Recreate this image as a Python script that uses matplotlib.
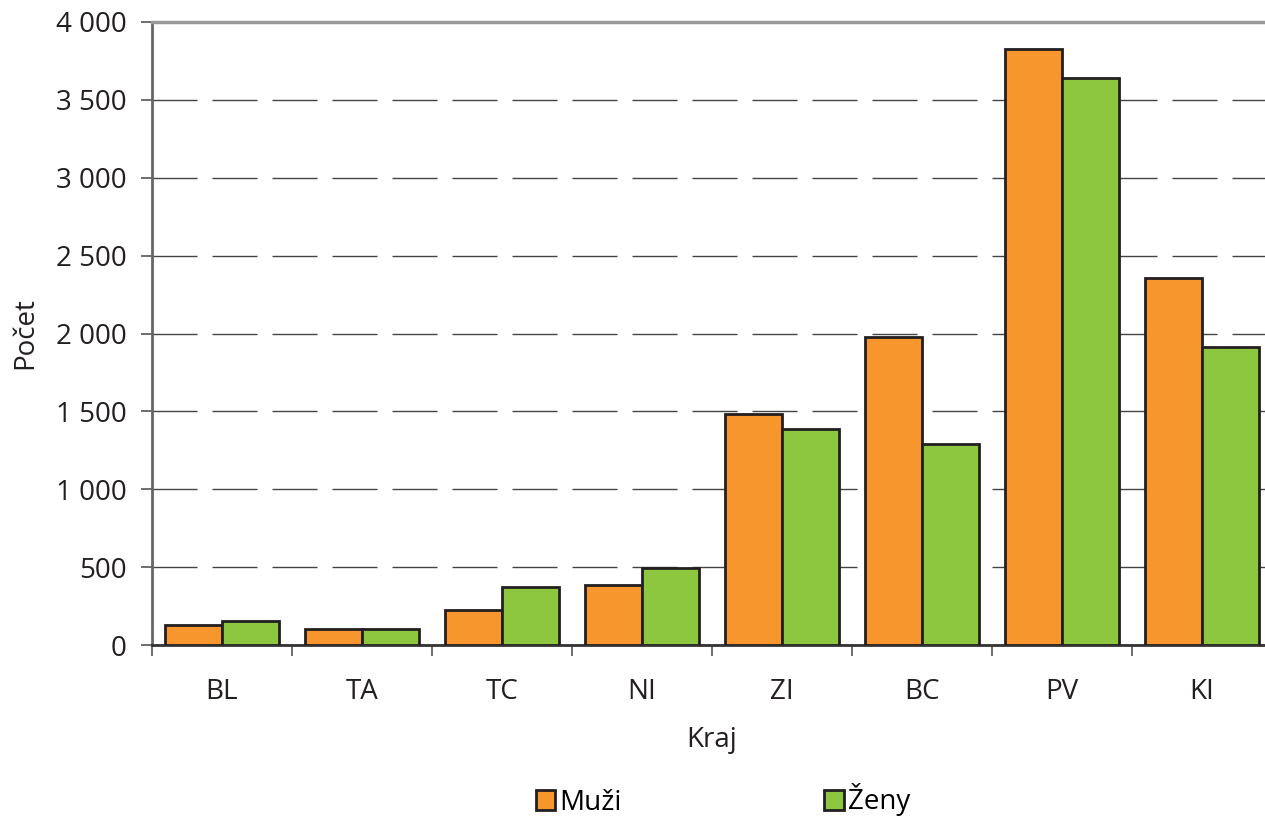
import numpy as np
import matplotlib
matplotlib.use("Agg")
import matplotlib.pyplot as plt
from matplotlib.patches import Patch

# data
kraje = ["BL", "TA", "TC", "NI", "ZI", "BC", "PV", "KI"]
muzi = [131, 101, 225, 386, 1486, 1979, 3826, 2358]
zeny = [155, 101, 375, 497, 1389, 1293, 3639, 1911]
y_ticks = [0, 500, 1000, 1500, 2000, 2500, 3000, 3500, 4000]
y_tick_labels = ["0", "500", "1 000", "1 500", "2 000", "2 500", "3 000", "3 500", "4 000"]

orange = "#F6962D"
green = "#8DC63F"
edge = "#231F20"
fs = 20

plt.rcParams["font.family"] = ["Open Sans", "DejaVu Sans"]

W, H = 1265, 816
fig = plt.figure(figsize=(W / 100, H / 100), dpi=100)
# the plot area runs a little past the right edge of the figure, as in the reference
ax = fig.add_axes([152 / W, 1 - 645 / H, (1272 - 152) / W, (645 - 22) / H])

x = np.arange(len(kraje))
width = 0.405
ax.bar(x - width / 2, muzi, width, color=orange, edgecolor=edge, linewidth=2, zorder=3, label="Muži")
ax.bar(x + width / 2, zeny, width, color=green, edgecolor=edge, linewidth=2, zorder=3, label="Ženy")

ax.set_xlim(-0.5, len(kraje) - 0.5)
ax.set_ylim(0, 4000)

ax.set_yticks(y_ticks)
ax.set_yticklabels(y_tick_labels)
ax.set_xticks(x)
ax.set_xticklabels(kraje)
ax.set_xticks(np.arange(len(kraje) + 1) - 0.5, minor=True)
ax.tick_params(axis="x", which="major", length=0, pad=24, labelsize=fs, colors="#231F20")
ax.tick_params(axis="x", which="minor", length=8, width=1.2, color="#555555", direction="out")
ax.tick_params(axis="y", length=8, width=1.2, color="#555555", pad=10, labelsize=fs, labelcolor="#231F20")

ax.yaxis.grid(True, color="#444444", linewidth=1, linestyle=(0, (45 * 0.72, 15 * 0.72)), zorder=1)
ax.set_axisbelow(True)

ax.spines["right"].set_visible(False)
ax.spines["top"].set_color("#999999")
ax.spines["top"].set_linewidth(2.5)
ax.spines["left"].set_color("#666666")
ax.spines["left"].set_linewidth(2)
ax.spines["bottom"].set_color("#333333")
ax.spines["bottom"].set_linewidth(2)

ax.set_ylabel("Počet", fontsize=fs, color="#231F20", labelpad=12)
ax.set_xlabel("Kraj", fontsize=fs, color="#231F20", labelpad=14)

handles = [
    Patch(facecolor=orange, edgecolor=edge, linewidth=2, label="Muži"),
    Patch(facecolor=green, edgecolor=edge, linewidth=2, label="Ženy"),
]
fig.legend(handles=handles, loc="center", bbox_to_anchor=(723 / W, 1 - 800 / H),
           ncol=2, frameon=False, fontsize=fs, handlelength=0.7, handleheight=0.7,
           handletextpad=0.15, columnspacing=7.3)

fig.savefig("out.png", dpi=100)
